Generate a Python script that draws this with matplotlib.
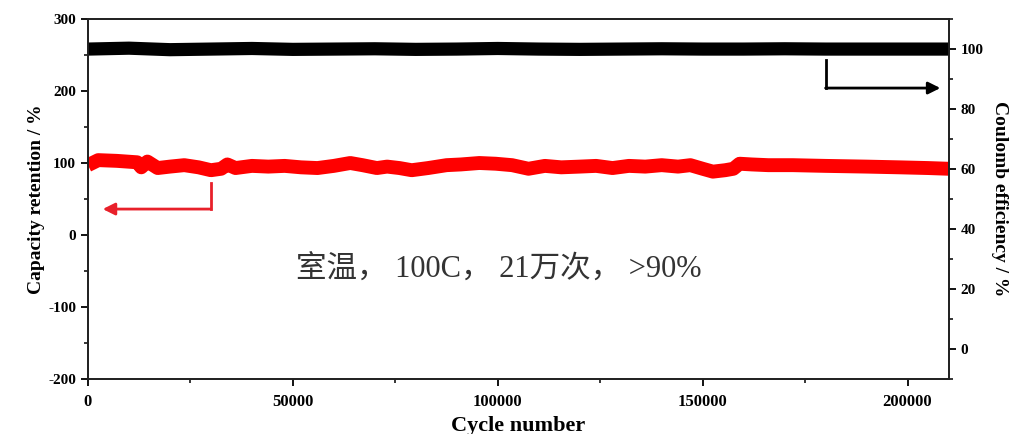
import matplotlib.pyplot as plt
from matplotlib.ticker import MultipleLocator

# capacity retention (left axis)
red_cycles = [0, 2500, 7000, 12000, 13000, 14500, 17000, 20000, 23500, 27000,
              30000, 32500, 34000, 36000, 40000, 44000, 48000, 52000, 56000, 60000,
              64000, 67000, 70500, 73000, 76000, 79000, 83000, 87500, 91000, 95500,
              99500, 103500, 107500, 111500, 115500, 120000, 124000, 128000, 132000, 136000,
              140000, 144000, 147000, 150000, 152500, 155500, 157500, 159000, 162000, 166000,
              172000, 180000, 190000, 198000, 205000, 210000]
red_values = [97, 104, 103, 101, 94, 102, 93, 95, 97, 94,
              90, 92, 98, 93, 96, 95, 96, 94, 93, 96,
              100, 97, 93, 95, 93, 90, 93, 97, 98, 100,
              99, 97, 92, 96, 94, 95, 96, 93, 96, 95,
              97, 95, 97, 92, 88, 90, 92, 99, 98, 97,
              97, 96, 95, 94, 93, 92]

# coulomb efficiency (right axis)
ce_cycles = [0, 10000, 20000, 30000, 40000, 50000, 60000, 70000, 80000, 90000, 100000,
             110000, 120000, 130000, 140000, 150000, 160000, 170000, 180000, 190000, 200000, 210000]
ce_values = [100, 100.3, 99.8, 100, 100.2, 99.9, 100, 100.1, 99.9, 100, 100.2,
             100, 99.9, 100, 100.1, 100, 100, 100.1, 100, 100, 100, 100]

left_ticks = [-200, -100, 0, 100, 200, 300]
right_ticks = [0, 20, 40, 60, 80, 100]
x_ticks = [0, 50000, 100000, 150000, 200000]

plt.rcParams['font.family'] = ['Liberation Serif', 'Noto Sans CJK SC']
plt.rcParams['axes.unicode_minus'] = False

fig = plt.figure(figsize=(10.16, 4.34), dpi=100)
ax = fig.add_axes([0.0866, 0.127, 0.847, 0.829])
ax2 = ax.twinx()

ax.plot(red_cycles, red_values, color='#ff0000', lw=10, solid_capstyle='butt',
        solid_joinstyle='round')
ax2.plot(ce_cycles, ce_values, color='black', lw=9.5, solid_capstyle='butt')

ax.set_xlim(0, 210000)
ax.set_ylim(-200, 300)
ax2.set_ylim(-10, 110)

ax.set_xticks(x_ticks)
ax.set_yticks(left_ticks)
ax2.set_yticks(right_ticks)
ax.xaxis.set_minor_locator(MultipleLocator(25000))
ax.yaxis.set_minor_locator(MultipleLocator(50))
ax2.yaxis.set_minor_locator(MultipleLocator(10))

for a in (ax, ax2):
    for s in a.spines.values():
        s.set_linewidth(1.3)
        s.set_color('#222222')
ax.tick_params(which='major', length=5, width=1.3, labelsize=11)
ax.tick_params(axis='x', labelsize=12, pad=6)
ax.tick_params(which='minor', length=3, width=1.1)
ax2.tick_params(which='major', length=5, width=1.3, labelsize=11)
ax2.tick_params(which='minor', length=3, width=1.1)
for lab in ax.get_xticklabels() + ax.get_yticklabels() + ax2.get_yticklabels():
    lab.set_fontweight('bold')

ax.set_xlabel('Cycle number', fontsize=16, fontweight='bold', labelpad=4)
ax.set_ylabel('Capacity retention / %', fontsize=14, fontweight='bold', labelpad=2)
ax2.set_ylabel('Coulomb efficiency / %', fontsize=14, fontweight='bold',
               rotation=-90, labelpad=18)

# red arrow pointing to left axis
ax.plot([30000, 30000], [72, 36], color='#e8202a', lw=2)
ax.annotate('', xy=(3600, 36), xytext=(30000, 36),
            arrowprops=dict(arrowstyle='-|>', color='#e8202a', lw=2,
                            mutation_scale=18, shrinkA=0, shrinkB=0))
# black arrow pointing to right axis
ax2.plot([180000, 180000], [96.5, 87], color='black', lw=2)
ax2.annotate('', xy=(208000, 87), xytext=(180000, 87),
             arrowprops=dict(arrowstyle='-|>', color='black', lw=2,
                             mutation_scale=18, shrinkA=0, shrinkB=0))

ax.text(50800, -47, '室温， 100C， 21万次， >90%', fontsize=22, color='#333333',
        va='center', ha='left')

fig.savefig('out.png', dpi=100)
